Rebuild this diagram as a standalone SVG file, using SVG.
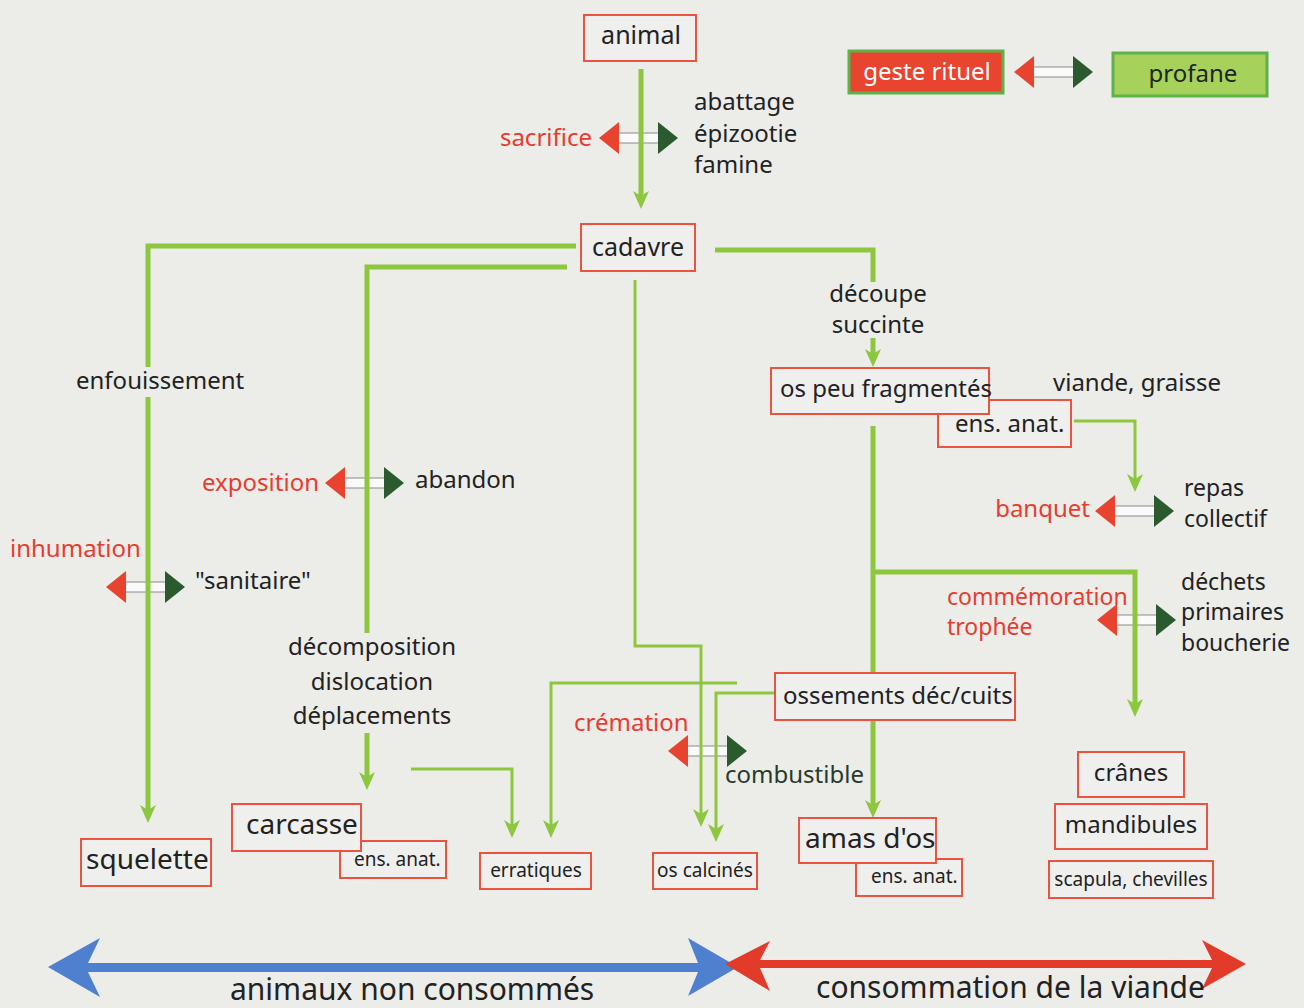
<svg xmlns="http://www.w3.org/2000/svg" xmlns:xlink="http://www.w3.org/1999/xlink" width="1304" height="1008" viewBox="0 0 1304 1008">
<style>
text{font-family:"Noto Sans","Open Sans","DejaVu Sans",sans-serif;font-size:24px;fill:#222}
.red{fill:#e63c30}
.big{font-size:28px}
.sm{font-size:19px}
.xl{font-size:30px}
.tight{font-size:23px}
.mid{text-anchor:middle}
.end{text-anchor:end}
.box{fill:#efefed;stroke:#e8543f;stroke-width:2}
.thick{fill:none;stroke:#8dc63f;stroke-width:5}
.thin{fill:none;stroke:#8dc63f;stroke-width:3}
.arr{marker-end:url(#ah)}
</style>
<defs>
<marker id="ah" viewBox="0 0 18 16" refX="10" refY="8" markerWidth="18" markerHeight="16" markerUnits="userSpaceOnUse" orient="auto">
<path d="M0,0 L18,8 L0,16 L5,8 Z" fill="#8dc63f"/>
</marker>
<g id="dbl">
<rect x="19" y="-5" width="41" height="10" fill="#fafafa" stroke="#8a8a8a" stroke-width="1"/>
<polygon points="0,0 20,-16 20,16" fill="#e8432e"/>
<polygon points="59,-16 79,0 59,16" fill="#2c5a2f"/>
</g>
</defs>
<rect width="1304" height="1008" fill="#ecece9"/>

<g id="relations">
<use xlink:href="#dbl" x="599" y="138"/>
<use xlink:href="#dbl" x="1014" y="72"/>
<use xlink:href="#dbl" x="325" y="483"/>
<use xlink:href="#dbl" x="106" y="587"/>
<use xlink:href="#dbl" x="1095" y="511"/>
<use xlink:href="#dbl" x="1097" y="620"/>
<use xlink:href="#dbl" x="668" y="751"/>
</g>

<g id="connectors">
<path class="thick arr" d="M641,69 V201"/>
<path class="thick" d="M576,246 H148 V367"/>
<path class="thick arr" d="M148,397 V815"/>
<path class="thick" d="M567,267 H367 V633"/>
<path class="thick arr" d="M367,733 V782"/>
<path class="thick" d="M715,250 H873 V282"/>
<path class="thick arr" d="M873,338 V359"/>
<path class="thick" d="M873,426 V673"/>
<path class="thick arr" d="M873,720 V810"/>
<path class="thick arr" d="M873,572 H1135 V709"/>
<path class="thin arr" d="M635,280 V646 H701 V819"/>
<path class="thin arr" d="M737,683 H551 V830"/>
<path class="thin arr" d="M775,693 H716 V834"/>
<path class="thin arr" d="M411,769 H512 V830"/>
<path class="thin arr" d="M1074,421 H1135 V484"/>
</g>

<g id="animal"><rect class="box" x="584" y="15" width="112" height="46"/><text class="mid" x="641" y="44" style="font-size:25px">animal</text></g>
<g id="sacrifice"><text class="red end" x="592" y="146">sacrifice</text></g>
<g id="causes"><text x="694" y="110">abattage</text><text x="694" y="142">épizootie</text><text x="694" y="173">famine</text></g>
<g id="geste-rituel"><rect x="849" y="51" width="154" height="42" fill="#e8442f" stroke="#5fb24a" stroke-width="3"/><text class="mid" x="927" y="80" style="fill:#fff">geste rituel</text></g>
<g id="profane"><rect x="1113" y="53" width="154" height="43" fill="#a6d25c" stroke="#5fb24a" stroke-width="3"/><text class="mid" x="1193" y="82">profane</text></g>
<g id="cadavre"><rect class="box" x="581" y="224" width="114" height="47"/><text class="mid" x="638" y="256" style="font-size:25px">cadavre</text></g>
<g id="decoupe"><text class="mid" x="878" y="302">découpe</text><text class="mid" x="878" y="333">succinte</text></g>
<g id="os-peu-fragmentes"><rect class="box" x="938" y="400" width="133" height="47"/><text x="955" y="432">ens. anat.</text><rect class="box" x="771" y="368" width="218" height="46"/><text x="780" y="397">os peu fragmentés</text></g>
<g id="viande"><text x="1053" y="391">viande, graisse</text></g>
<g id="banquet"><text class="red end" x="1090" y="517">banquet</text><text class="tight" x="1184" y="496">repas</text><text class="tight" x="1184" y="527">collectif</text></g>
<g id="commemoration"><text class="red tight" x="947" y="605">commémoration</text><text class="red tight" x="947" y="635">trophée</text><text class="tight" x="1181" y="590">déchets</text><text class="tight" x="1181" y="620">primaires</text><text class="tight" x="1181" y="651">boucherie</text></g>
<g id="enfouissement"><text x="76" y="389">enfouissement</text></g>
<g id="exposition"><text class="red end" x="319" y="491">exposition</text><text x="415" y="488">abandon</text></g>
<g id="inhumation"><text class="red" x="10" y="557">inhumation</text><text x="195" y="589">"sanitaire"</text></g>
<g id="decomposition"><text class="mid" x="372" y="655">décomposition</text><text class="mid" x="372" y="690">dislocation</text><text class="mid" x="372" y="724">déplacements</text></g>
<g id="cremation"><text class="red" x="574" y="731">crémation</text><text x="725" y="783" style="fill:#283a2a">combustible</text></g>
<g id="ossements"><rect class="box" x="775" y="673" width="240" height="47"/><text x="783" y="704">ossements déc/cuits</text></g>
<g id="cranes"><rect class="box" x="1078" y="752" width="106" height="45"/><text class="mid" x="1131" y="781">crânes</text></g>
<g id="mandibules"><rect class="box" x="1055" y="804" width="152" height="45"/><text class="mid" x="1131" y="833">mandibules</text></g>
<g id="scapula"><rect class="box" x="1049" y="861" width="164" height="37"/><text class="mid sm" x="1131" y="886">scapula, chevilles</text></g>
<g id="amas-dos"><rect class="box" x="856" y="859" width="106" height="37"/><text class="sm" x="871" y="883">ens. anat.</text><rect class="box" x="799" y="818" width="137" height="45"/><text class="big" x="805" y="848">amas d'os</text></g>
<g id="os-calcines"><rect class="box" x="653" y="853" width="104" height="36"/><text class="mid sm" x="705" y="877">os calcinés</text></g>
<g id="erratiques"><rect class="box" x="480" y="853" width="111" height="36"/><text class="mid sm" x="536" y="877">erratiques</text></g>
<g id="carcasse"><rect class="box" x="340" y="841" width="106" height="37"/><text class="sm" x="354" y="866">ens. anat.</text><rect class="box" x="232" y="804" width="129" height="47"/><text class="big" x="246" y="834">carcasse</text></g>
<g id="squelette"><rect class="box" x="81" y="839" width="130" height="47"/><text class="big" x="86" y="869">squelette</text></g>

<g id="axis">
<polygon fill="#4f7fcf" points="48,967 100,938 88,963 698,963 688,938 738,967 688,996 698,972 88,972 100,997"/>
<polygon fill="#e23b2a" points="725,964 770,941 760,960 1212,960 1202,940 1246,964 1202,989 1212,968 760,968 770,991"/>
<text class="xl" x="230" y="1000">animaux non consommés</text>
<text class="xl" x="816" y="998">consommation de la viande</text>
</g>
</svg>
